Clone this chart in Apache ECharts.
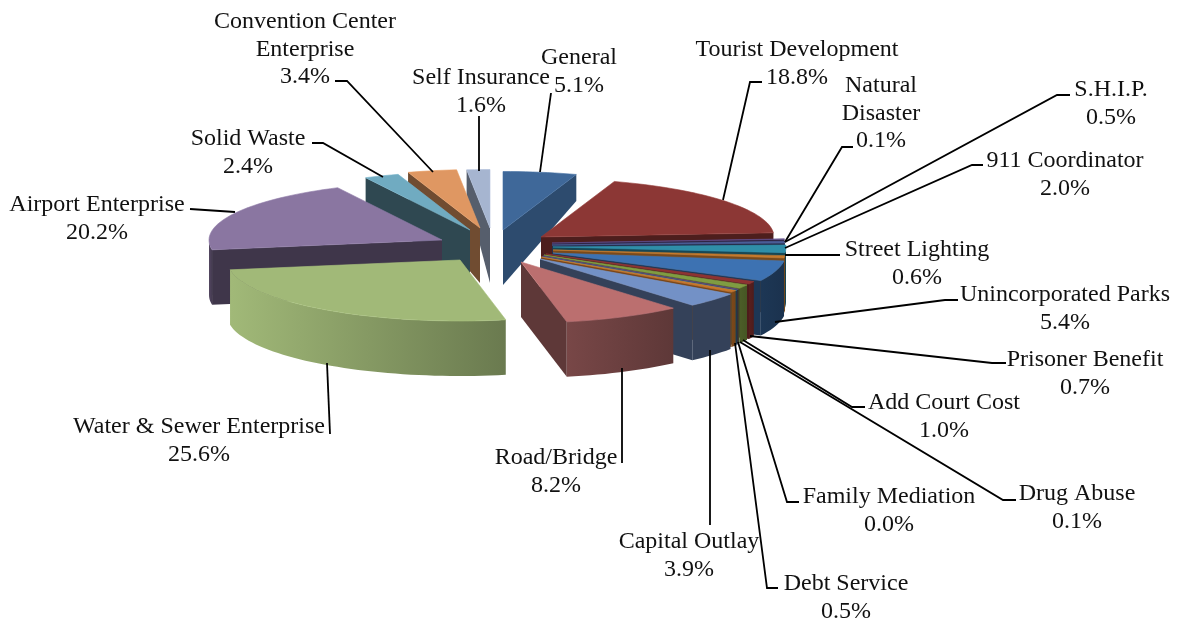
<!DOCTYPE html>
<html>
<head>
<meta charset="utf-8">
<script src="https://cdn.jsdelivr.net/npm/echarts@6/dist/echarts.min.js"></script>
<style>
html, body { margin: 0; padding: 0; background: #fff; }
#chart { width: 1178px; height: 622px; }
</style>
</head>
<body>
<div id="chart"></div>
<script>
const names = ['General', 'Tourist Development', 'Natural Disaster', 'S.H.I.P.', '911 Coordinator', 'Street Lighting',
    'Unincorporated Parks', 'Prisoner Benefit', 'Add Court Cost', 'Drug Abuse', 'Family Mediation', 'Debt Service',
    'Capital Outlay', 'Road/Bridge', 'Water & Sewer Enterprise', 'Airport Enterprise', 'Solid Waste',
    'Convention Center Enterprise', 'Self Insurance'];
const shares = [5.1, 18.8, 0.1, 0.5, 2.0, 0.6, 5.4, 0.7, 1.0, 0.1, 0.0, 0.5, 3.9, 8.2, 25.6, 20.2, 2.4, 3.4, 1.6];

// top colour of every slice
const colors = ['#3f6899', '#8c3735', '#5d4a86', '#4a5d96', '#2f8ea8', '#c4782c', '#3d72b2', '#8e3331', '#7f9c42',
    '#5e4a82', '#2e8ba5', '#c8752a', '#7391c6', '#bb6f6f', '#a1b978', '#8a76a1', '#70abc1', '#df9762', '#a6b5d0'];
// how dark the side faces get, slice by slice: [flat face, wall left, wall right]
const faceShade = [[0.72, 0.6, 0.5], [0.55, 0.5, 0.45], [0.5, 0.5, 0.45], [0.5, 0.5, 0.45], [0.5, 0.5, 0.45], [0.62, 0.62, 0.55],
    [0.48, 0.48, 0.44], [0.55, 0.62, 0.55], [0.55, 0.6, 0.55], [0.5, 0.5, 0.45], [0.5, 0.5, 0.45], [0.6, 0.62, 0.58],
    [0.45, 0.45, 0.45], [0.5, 0.64, 0.5], [0.6, 1.0, 0.66], [0.46, 0.6, 0.5], [0.42, 0.6, 0.5], [0.5, 0.6, 0.5], [0.52, 0.6, 0.5]];
// how far each slice is pulled off the pie centre
const explode = [[-38, -10], [0, -3], [11, 3], [11, 5], [12, 7], [12, 10], [12, 13], [5, 14], [3, 15], [2, 16], [1, 17],
    [0, 17], [-1, 19], [-20, 22], [-81, 20], [-99, 0], [-71, -10], [-61, -12], [-51, -12]];
// painter order, far slices first
const drawOrder = [0, 18, 17, 16, 15, 1, 2, 3, 4, 5, 6, 7, 8, 9, 10, 11, 12, 13, 14];

// label text lines are wrapped by hand like the original
const labelLines = {
    2: ['Natural', 'Disaster'],
    17: ['Convention Center', 'Enterprise']
};
// label anchor: centre x, first line y
const labelPos = [[579, 58], [797, 50], [881, 86], [1111, 90], [1065, 161], [917, 250], [1065, 295], [1085, 360], [944, 403],
    [1077, 494], [889, 497], [846, 584], [689, 542], [556, 458], [199, 427], [97, 205], [248, 139], [305, 22], [481, 78]];
const leaders = [
    [[551, 93], [540, 172]],
    [[762, 82], [750, 82], [723, 200]],
    [[853, 147], [842, 147], [785, 242]],
    [[1070, 95], [1057, 95], [785, 242]],
    [[983, 165], [972, 165], [785, 248]],
    [[840, 255], [785, 255]],
    [[958, 300], [945, 300], [775, 322]],
    [[1006, 363], [992, 363], [750, 336]],
    [[865, 407], [852, 407], [743, 340]],
    [[1016, 500], [1003, 500], [740, 342]],
    [[799, 502], [787, 502], [738, 342]],
    [[778, 588], [767, 588], [735, 343]],
    [[710, 525], [710, 350]],
    [[622, 463], [622, 368]],
    [[330, 434], [327, 363]],
    [[190, 209], [235, 212]],
    [[312, 143], [323, 143], [383, 177]],
    [[335, 81], [347, 81], [433, 172]],
    [[479, 116], [479, 171]]
];

const pieX = 541, pieY = 240, radX = 233, radYFront = 61, radYBack = 58.5;
const DEG = Math.PI / 180;
const total = shares.reduce((a, b) => a + b, 0);

// angles run clockwise from the top
let run = 0;
const angles = shares.map(function (v) {
    const from = run / total * 360;
    run += v;
    return [from, run / total * 360];
});

function shade(hex, k) {
    const n = parseInt(hex.slice(1), 16);
    const ch = [n >> 16, (n >> 8) & 255, n & 255].map(c => Math.round(c * k));
    return 'rgb(' + ch.join(',') + ')';
}
// extrusion gets shorter towards the back of the pie
function depthAt(cosA) {
    return 55 - 30 * Math.max(0, cosA);
}
function rimPoint(i, deg, r) {
    const a = deg * DEG;
    const cosA = Math.cos(a);
    return [pieX + explode[i][0] + radX * (r || 1) * Math.sin(a),
        pieY + explode[i][1] - (cosA > 0 ? radYBack : radYFront) * (r || 1) * cosA];
}
function arcPoints(i, from, to) {
    const steps = Math.max(1, Math.ceil((to - from) / 2));
    const pts = [];
    for (let s = 0; s <= steps; s++) pts.push(rimPoint(i, from + (to - from) * s / steps));
    return pts;
}
function drop(p, cosA) {
    return [p[0], p[1] + depthAt(cosA)];
}
function hGrad(left, right) {
    return { type: 'linear', x: 0, y: 0, x2: 1, y2: 0, colorStops: [{ offset: 0, color: left }, { offset: 1, color: right }] };
}

function renderSlice(params, api) {
    const i = api.value(0);
    const c = colors[i];
    const s = faceShade[i];
    const from = angles[i][0], to = angles[i][1];
    const apex = rimPoint(i, 0, 0.0001);
    const kids = [];

    // start face looks at the viewer on the left half, end face on the right half
    if (Math.sin(from * DEG) < 0) {
        const p = rimPoint(i, from);
        kids.push({ type: 'polygon', shape: { points: [apex, p, drop(p, Math.cos(from * DEG)), drop(apex, 0)] },
            style: { fill: shade(c, s[0]) } });
    }
    if (Math.sin(to * DEG) > 0) {
        const p = rimPoint(i, to);
        kids.push({ type: 'polygon', shape: { points: [apex, p, drop(p, Math.cos(to * DEG)), drop(apex, 0)] },
            style: { fill: shade(c, s[0]) } });
    }
    // outer wall, front half only
    const wallFrom = Math.max(from, 90), wallTo = Math.min(to, 270);
    if (wallTo > wallFrom) {
        const top = arcPoints(i, wallFrom, wallTo);
        const low = top.map((p, k) => drop(p, Math.cos((wallFrom + (wallTo - wallFrom) * k / (top.length - 1)) * DEG))).reverse();
        kids.push({ type: 'polygon', shape: { points: top.concat(low) },
            style: { fill: hGrad(shade(c, s[1]), shade(c, s[2])) } });
    }
    // top surface
    kids.push({ type: 'polygon', shape: { points: [apex].concat(arcPoints(i, from, to)) },
        style: { fill: c, stroke: shade(c, 1.05), lineWidth: 0.6 } });
    return { type: 'group', children: kids };
}

function renderLabel(params, api) {
    const i = api.value(0);
    const lines = (labelLines[i] || [names[i]]).concat(shares[i].toFixed(1) + '%');
    const kids = [{ type: 'polyline', shape: { points: leaders[i] }, style: { fill: 'none', stroke: '#000', lineWidth: 1.8 } }];
    lines.forEach(function (t, k) {
        kids.push({ type: 'text', style: { text: t, x: labelPos[i][0], y: labelPos[i][1] + k * 27.6, align: 'center', verticalAlign: 'middle',
            font: '24px "Liberation Serif"', fill: '#111' } });
    });
    return { type: 'group', children: kids };
}

const chart = echarts.init(document.getElementById('chart'), null, { renderer: 'canvas' });
chart.setOption({
    animation: false,
    backgroundColor: '#fff',
    series: [
        { type: 'custom', coordinateSystem: 'none', renderItem: renderSlice, data: drawOrder.map(i => [i, shares[i]]), silent: true, z: 2 },
        { type: 'custom', coordinateSystem: 'none', renderItem: renderLabel, data: names.map((n, i) => [i, shares[i]]), silent: true, z: 3 }
    ]
});
</script>
</body>
</html>
